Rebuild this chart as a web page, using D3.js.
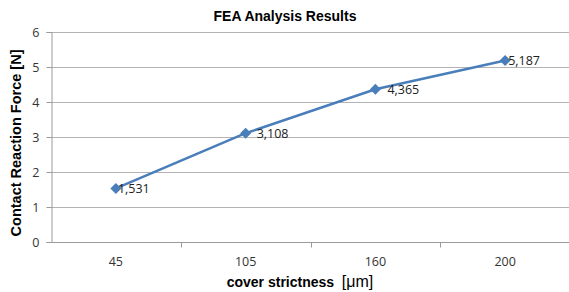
<!DOCTYPE html>
<html>
<head>
<meta charset="utf-8">
<script src="https://cdn.jsdelivr.net/npm/d3@7"></script>
<style>
  body { margin: 0; background: #fff; }
  text { font-family: "Liberation Sans", Arial, sans-serif; }
</style>
</head>
<body>
<div id="chart"></div>
<script>
var categories = ["45", "105", "160", "200"];
var forces = [1.531, 3.108, 4.365, 5.187];
var labels = ["1,531", "3,108", "4,365", "5,187"];
var yTicks = [0, 1, 2, 3, 4, 5, 6];
var labelDx = [2, 11, 12, 3];

var width = 569, height = 292;
var margin = { top: 32, right: -1, bottom: 50, left: 51 };
var w = width - margin.left - margin.right, h = height - margin.top - margin.bottom;

var svg = d3.select("#chart").append("svg")
  .attr("width", width)
  .attr("height", height);

var g = svg.append("g")
  .attr("transform", "translate(" + margin.left + "," + margin.top + ")");

var x = d3.scaleBand().domain(categories).range([0, w]);
var y = d3.scaleLinear().domain([0, 6]).range([h, 0]);

// gridlines
g.selectAll(".grid")
  .data(yTicks)
  .enter().append("line")
  .attr("x1", 0).attr("x2", w)
  .attr("y1", function (d) { return Math.round(y(d)) + 0.5; })
  .attr("y2", function (d) { return Math.round(y(d)) + 0.5; })
  .attr("stroke", "#b3b3b3")
  .attr("stroke-width", 1);

// y axis
var yAxis = g.append("g")
  .attr("transform", "translate(0.5,0)")
  .call(d3.axisLeft(y).tickValues(yTicks).tickFormat(d3.format("d")).tickSize(5).tickPadding(7));
yAxis.select(".domain").attr("stroke", "#9a9a9a");
yAxis.selectAll(".tick line").attr("stroke", "#9a9a9a");
yAxis.selectAll(".tick text")
  .attr("fill", "#333")
  .style("font-size", "12.5px")
  .style("font-family", "'Open Sans', sans-serif");

// x axis with ticks between categories
var xAxis = g.append("g").attr("transform", "translate(0," + (Math.round(h) + 0.5) + ")");
xAxis.append("line").attr("x1", 0).attr("x2", w).attr("stroke", "#9a9a9a");
xAxis.selectAll(".sep")
  .data(categories.slice(1))
  .enter().append("line")
  .attr("x1", function (d) { return Math.round(x(d)) + 0.5; })
  .attr("x2", function (d) { return Math.round(x(d)) + 0.5; })
  .attr("y1", 0).attr("y2", 5)
  .attr("stroke", "#9a9a9a");
xAxis.selectAll(".xlab")
  .data(categories)
  .enter().append("text")
  .attr("x", function (d) { return x(d) + x.bandwidth() / 2; })
  .attr("y", 23)
  .attr("text-anchor", "middle")
  .attr("fill", "#333")
  .style("font-size", "12.5px")
  .style("font-family", "'Open Sans', sans-serif")
  .text(function (d) { return d; });

// line
var line = d3.line()
  .x(function (d, i) { return x(categories[i]) + x.bandwidth() / 2; })
  .y(function (d) { return y(d); });

g.append("path")
  .datum(forces)
  .attr("d", line)
  .attr("fill", "none")
  .attr("stroke", "#4a7ebb")
  .attr("stroke-width", 2.5);

g.selectAll(".marker")
  .data(forces)
  .enter().append("path")
  .attr("d", "M0,-5.5L5.5,0L0,5.5L-5.5,0Z")
  .attr("transform", function (d, i) {
    return "translate(" + (x(categories[i]) + x.bandwidth() / 2) + "," + y(d) + ")";
  })
  .attr("fill", "#4a7ebb");

g.selectAll(".dlabel")
  .data(forces)
  .enter().append("text")
  .attr("x", function (d, i) { return x(categories[i]) + x.bandwidth() / 2 + labelDx[i]; })
  .attr("y", function (d) { return y(d); })
  .attr("dy", "0.35em")
  .attr("fill", "#222")
  .style("font-size", "12.5px")
  .style("font-family", "'Open Sans', sans-serif")
  .text(function (d, i) { return labels[i]; });

// title
svg.append("text")
  .attr("x", 285).attr("y", 21)
  .attr("text-anchor", "middle")
  .style("font-size", "14px")
  .style("font-weight", "bold")
  .text("FEA Analysis Results");

// x axis title
var xt = svg.append("text")
  .attr("x", 300).attr("y", 287)
  .attr("text-anchor", "middle");
xt.append("tspan").style("font-size", "14px").style("font-weight", "bold").text("cover strictness\u00a0\u00a0");
xt.append("tspan").style("font-size", "16px").text("[\u03bcm]");

// y axis title
svg.append("text")
  .attr("transform", "translate(21," + (margin.top + h / 2 + 6) + ")rotate(-90)")
  .attr("text-anchor", "middle")
  .style("font-size", "14.5px")
  .style("font-weight", "bold")
  .text("Contact Reaction Force [N]");
</script>
</body>
</html>
